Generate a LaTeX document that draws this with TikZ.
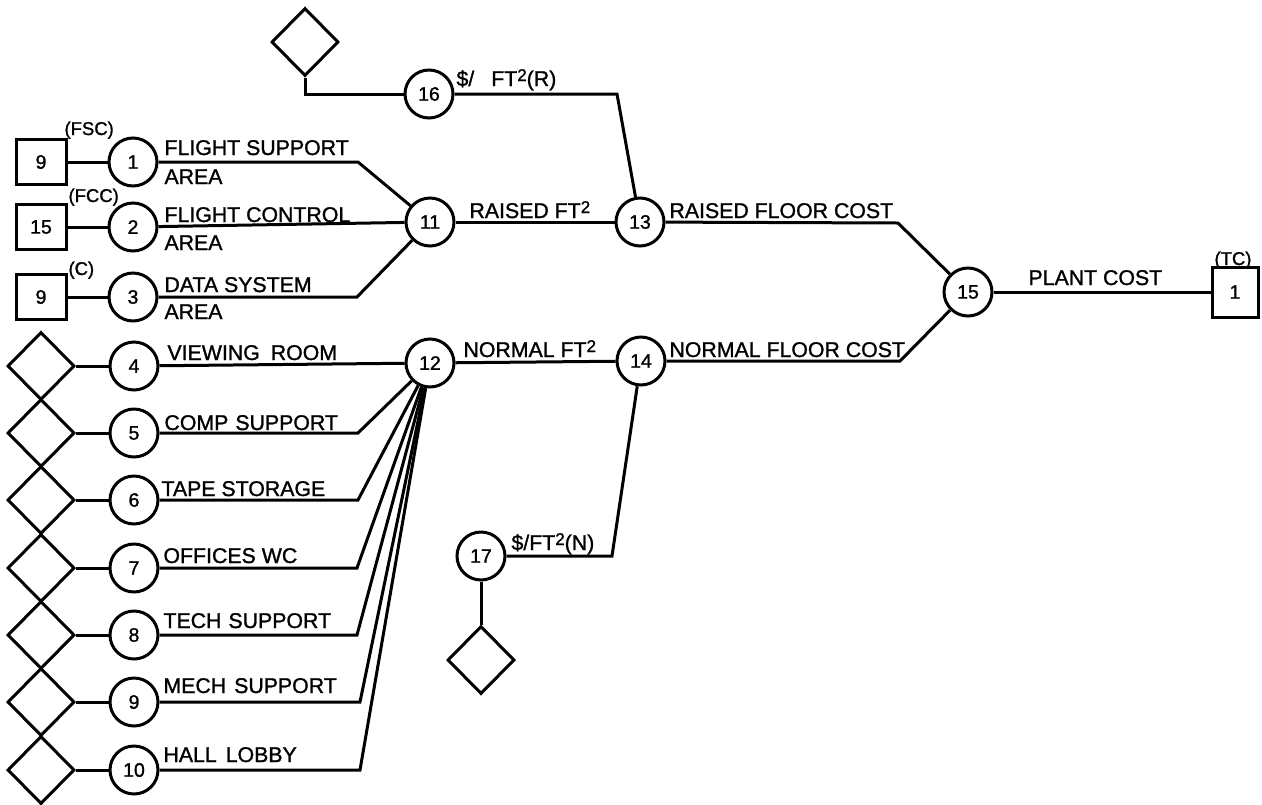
\documentclass[tikz,border=0pt]{standalone}
\usepackage{fontspec}
\setmainfont{Liberation Sans}[BoldFont={Liberation Sans},BoldFeatures={FakeBold=1.2}]
\usetikzlibrary{shapes.geometric}
% raised "2" for square feet
\newcommand\sqtwo{\raisebox{5pt}{\fontsize{17}{17}\selectfont 2}}
\newcommand\wgap[1]{\hspace*{#1pt}}
\begin{document}
\begin{tikzpicture}[x=1pt,y=-1pt,
  line width=3pt,
  circ/.style={circle,draw,minimum size=48pt,inner sep=0pt,font=\fontsize{19.5}{19.5}\selectfont\bfseries},
  sqbox/.style={rectangle,draw,minimum width=50pt,minimum height=45pt,inner sep=0pt,font=\fontsize{19.5}{19.5}\selectfont\bfseries},
  diam/.style={diamond,draw,minimum width=67pt,minimum height=68pt,inner sep=0pt},
  lbl/.style={anchor=base west,inner sep=0pt,font=\fontsize{21.3}{21.3}\selectfont\bfseries},
  tag/.style={anchor=base west,inner sep=0pt,font=\fontsize{18.5}{18.5}\selectfont\bfseries},
  wire/.style={draw,line width=3pt}]
\useasboundingbox (0,0) rectangle (1262,804);

% ---- inputs: boxes and diamonds ----
\node[sqbox] (b1) at (41,162) {9};
\node[sqbox] (b2) at (41,227) {15};
\node[sqbox] (b3) at (41,297) {9};
\node[tag] (t1) at (63,135) {(FSC)};
\node[tag] (t2) at (67,202) {(FCC)};
\node[tag] (t3) at (67,275) {(C)};

\node[circ] (n1) at (133,162) {1};
\node[circ] (n2) at (133,227) {2};
\node[circ] (n3) at (133,297) {3};

\foreach \i/\y in {4/366,5/433,6/500,7/568,8/635,9/702,10/770}{
  \node[diam] (d\i) at (41,\y) {};
  \node[circ] (n\i) at (134,\y) {\i};
}

% ---- central nodes ----
\node[diam] (dR) at (305,42) {};
\node[circ] (n16) at (429,94) {16};
\node[circ] (n11) at (430,222) {11};
\node[circ] (n13) at (640,222) {13};
\node[circ] (n12) at (430,363) {12};
\node[circ] (n14) at (641,361) {14};
\node[circ] (n15) at (968,292) {15};
\node[sqbox,minimum width=46pt,minimum height=50pt] (tc) at (1235,292) {1};
\node[tag] (ttc) at (1213,265) {(TC)};
\node[circ] (n17) at (481,556) {17};
\node[diam] (dN) at (481,660) {};

% ---- bend points ----
\coordinate (k1) at (358,162);
\coordinate (k3) at (357,297);
\coordinate (k16) at (617,94);
\coordinate (k17) at (612,556);
\coordinate (k13) at (898,223);
\coordinate (k14) at (900,361);
\coordinate (k5) at (358,433);
\coordinate (k6) at (358,500);
\coordinate (k7) at (357,568);
\coordinate (k8) at (357,635);
\coordinate (k9) at (360,702);
\coordinate (k10) at (360,770);

% ---- connectors ----
\path[wire] (b1) -- (n1);
\path[wire] (b2) -- (n2);
\path[wire] (b3) -- (n3);
\path[wire] (n1) -- (k1) -- (n11);
\path[wire] (n2) -- (n11);
\path[wire] (n3) -- (k3) -- (n11);
\foreach \i in {4,...,10}{ \path[wire] (d\i) -- (n\i); }
\path[wire] (n4) -- (n12);
\foreach \i in {5,...,10}{ \path[wire] (n\i) -- (k\i) -- (n12); }
\path[wire] (dR.south) |- (n16);
\path[wire] (n16) -- (k16) -- (n13);
\path[wire] (n11) -- (n13);
\path[wire] (n12) -- (n14);
\path[wire] (n17) -- (k17) -- (n14);
\path[wire] (n17) -- (dN);
\path[wire] (n13) -- (k13) -- (n15);
\path[wire] (n14) -- (k14) -- (n15);
\path[wire] (n15) -- (tc);

% ---- labels ----
\node[lbl] (l1a) at (163,155) {FLIGHT SUPPORT};
\node[lbl] (l1b) at (163,184) {AREA};
\node[lbl] (l2a) at (163,222) {FLIGHT CONTROL};
\node[lbl] (l2b) at (163,250) {AREA};
\node[lbl] (l3a) at (163,292) {DATA SYSTEM};
\node[lbl] (l3b) at (163,319) {AREA};
\node[lbl] (l4) at (166,360) {VIEWING\wgap{11}ROOM};
\node[lbl] (l5) at (163,430) {COMP\wgap{7}SUPPORT};
\node[lbl] (l6) at (160,496) {TAPE STORAGE};
\node[lbl] (l7) at (162,563) {OFFICES\wgap{6}WC};
\node[lbl] (l8) at (162,628) {TECH\wgap{7}SUPPORT};
\node[lbl] (l9) at (162,693) {MECH\wgap{8}SUPPORT};
\node[lbl] (l10) at (162,762) {HALL\wgap{9}LOBBY};
\node[lbl] (l16) at (455,86) {\$/\wgap{17}FT\sqtwo(R)};
\node[lbl] (l11) at (468,218) {RAISED FT\sqtwo};
\node[lbl] (l12) at (462,357) {NORMAL FT\sqtwo};
\node[lbl] (l13) at (668,218) {RAISED FLOOR COST};
\node[lbl] (l14) at (668,357) {NORMAL FLOOR COST};
\node[lbl] (l17) at (510,550) {\$/FT\sqtwo(N)};
\node[lbl] (l15) at (1027,285) {PLANT COST};
\end{tikzpicture}
\end{document}
